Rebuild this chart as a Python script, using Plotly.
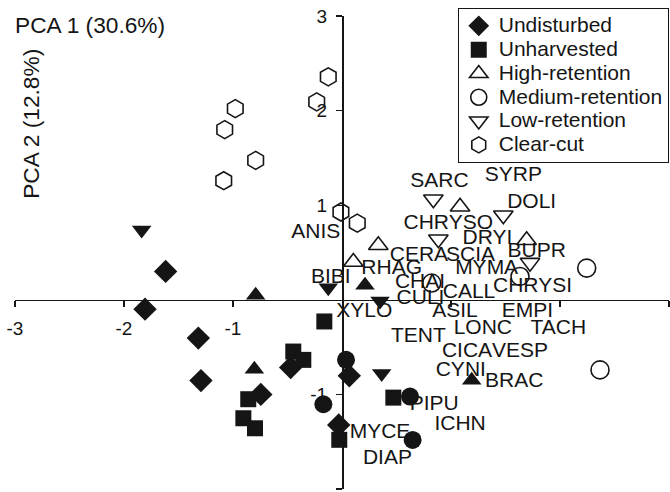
import plotly.graph_objects as go

INK = "#151515"
FONT = "Liberation Sans, Arial, Helvetica, sans-serif"

# ---------------- data ----------------
undisturbed_x = [-1.618, -1.807, -1.318, -1.294, -0.745, -0.471, 0.067, -0.030]
undisturbed_y = [0.300, -0.099, -0.405, -0.854, -1.000, -0.716, -0.804, -1.323]

unharvested_x = [-0.162, -0.447, -0.355, -0.860, -0.905, -0.798, -0.025, 0.471]
unharvested_y = [-0.229, -0.547, -0.635, -1.051, -1.252, -1.358, -1.480, -1.034]

high_open_x = [1.083, 1.694, 0.333, 0.104]
high_open_y = [0.983, 0.630, 0.577, 0.400]
high_filled_x = [-0.792, -0.804, 0.211, 1.190]
high_filled_y = [0.048, -0.735, 0.154, -0.850]

medium_open_x = [2.245, 2.367, 0.823, 1.633]
medium_open_y = [0.335, -0.741, 0.177, 0.247]
medium_filled_x = [0.037, -0.171, 0.624, 0.648]
medium_filled_y = [-0.635, -1.104, -1.023, -1.481]

low_open_x = [0.838, 1.480, 0.884, 1.725]
low_open_y = [1.063, 0.894, 0.640, 0.393]
low_filled_x = [-1.838, -0.126, 0.349, 0.364]
low_filled_y = [0.738, 0.128, -0.013, -0.778]

clearcut_x = [-0.126, -0.232, -0.979, -1.076, -0.792, -1.085, -0.010, 0.140]
clearcut_y = [2.357, 2.092, 2.021, 1.799, 1.474, 1.259, 0.928, 0.810]

species = ["SARC", "SYRP", "DOLI", "CHRYSO", "DRYI", "CERA", "SCIA", "BUPR",
           "RHAG", "MYMA", "CHAI", "CHRYSI", "CALL", "CULI", "XYLO", "ASIL",
           "EMPI", "TENT", "LONC", "TACH", "CICA", "VESP", "CYNI", "BRAC",
           "PIPU", "ICHN", "MYCE", "DIAP", "ANIS", "BIBI"]
species_x = [0.894, 1.572, 1.740, 0.975, 1.335, 0.706, 1.180, 1.786,
             0.456, 1.327, 0.716, 1.748, 1.165, 0.720, 0.204, 1.037,
             1.702, 0.700, 1.292, 1.985, 1.147, 1.633, 1.090, 1.580,
             0.846, 1.083, 0.349, 0.417, -0.240, -0.103]
species_y = [1.245, 1.315, 1.030, 0.800, 0.642, 0.466, 0.466, 0.511,
             0.325, 0.325, 0.176, 0.141, 0.077, 0.007, -0.124, -0.124,
             -0.124, -0.388, -0.310, -0.310, -0.547, -0.547, -0.751, -0.864,
             -1.111, -1.323, -1.410, -1.675, 0.705, 0.229]

x_tickvals = [-3, -2, -1, 1, 2, 3]
x_ticktext = ["-3", "-2", "-1", "", "", "3"]
y_tickvals = [-2, -1, 1, 2, 3]
y_ticktext = ["-2", "-1", "1", "2", "3"]

x_title = "PCA 1 (30.6%)"
y_title = "PCA 2 (12.8%)"


def legend_name(s):
    return '<span style="font-size:21px">' + s + '</span>'


fig = go.Figure()


def add_pts(x, y, symbol, size, name, show, filled):
    if filled:
        marker = dict(symbol=symbol, size=size, color=INK, line=dict(width=0, color=INK))
    else:
        marker = dict(symbol=symbol + "-open", size=size, color=INK, line=dict(width=1.6, color=INK))
    fig.add_trace(go.Scatter(x=x, y=y, mode="markers", marker=marker,
                             name=name, showlegend=show, hoverinfo="skip",
                             cliponaxis=False))


# filled (not in legend)
add_pts(high_filled_x, high_filled_y, "triangle-up", 17, "High-retention (filled)", False, True)
add_pts(medium_filled_x, medium_filled_y, "circle", 18, "Medium-retention (filled)", False, True)
add_pts(low_filled_x, low_filled_y, "triangle-down", 17, "Low-retention (filled)", False, True)

# legend order
add_pts(undisturbed_x, undisturbed_y, "diamond", 18, legend_name("Undisturbed"), True, True)
add_pts(unharvested_x, unharvested_y, "square", 16, legend_name("Unharvested"), True, True)
add_pts(high_open_x, high_open_y, "triangle-up", 17, legend_name("High-retention"), True, False)
add_pts(medium_open_x, medium_open_y, "circle", 18, legend_name("Medium-retention"), True, False)
add_pts(low_open_x, low_open_y, "triangle-down", 17, legend_name("Low-retention"), True, False)
add_pts(clearcut_x, clearcut_y, "hexagon", 18, legend_name("Clear-cut"), True, False)

fig.add_trace(go.Scatter(x=species_x, y=species_y, mode="text", text=species,
                         textposition="middle center",
                         textfont=dict(size=21, family=FONT, color=INK),
                         showlegend=False, hoverinfo="skip", cliponaxis=False))

axis_common = dict(showline=True, linecolor=INK, linewidth=1.6, ticks="outside",
                   ticklen=6, tickwidth=1.4, tickcolor=INK, showgrid=False,
                   zeroline=False, anchor="free", automargin=False,
                   tickfont=dict(size=19, family=FONT, color=INK))

fig.update_layout(
    width=670, height=492,
    margin=dict(l=15, r=1, t=16, b=3, autoexpand=False),
    paper_bgcolor="white", plot_bgcolor="white",
    font=dict(family=FONT, color=INK),
    hovermode=False,
    xaxis=dict(range=[-3, 3], position=0.4, tickvals=x_tickvals,
               ticktext=x_ticktext, ticklabelstandoff=5, **axis_common),
    yaxis=dict(range=[-2, 3], position=0.5, tickvals=y_tickvals,
               ticktext=y_ticktext, ticklabelstandoff=5, **axis_common),
    legend=dict(x=0.677, y=1.017, xanchor="left", yanchor="top",
                bordercolor=INK, borderwidth=1, bgcolor="white",
                font=dict(size=16, family=FONT, color=INK),
                itemsizing="trace", traceorder="normal"),
    annotations=[
        dict(text=x_title, xref="paper", yref="paper", x=-0.003, y=0.981,
             xanchor="left", yanchor="middle", showarrow=False,
             font=dict(size=22.7, family=FONT, color=INK)),
        dict(text=y_title, xref="paper", yref="paper", x=0.0245, y=0.772,
             xanchor="center", yanchor="middle", showarrow=False, textangle=-90,
             font=dict(size=22.7, family=FONT, color=INK)),
    ],
)

fig.write_html("out.html",
               config={"displayModeBar": False, "staticPlot": True},
               post_script="document.body.style.margin='0px';document.body.style.padding='0px';")
